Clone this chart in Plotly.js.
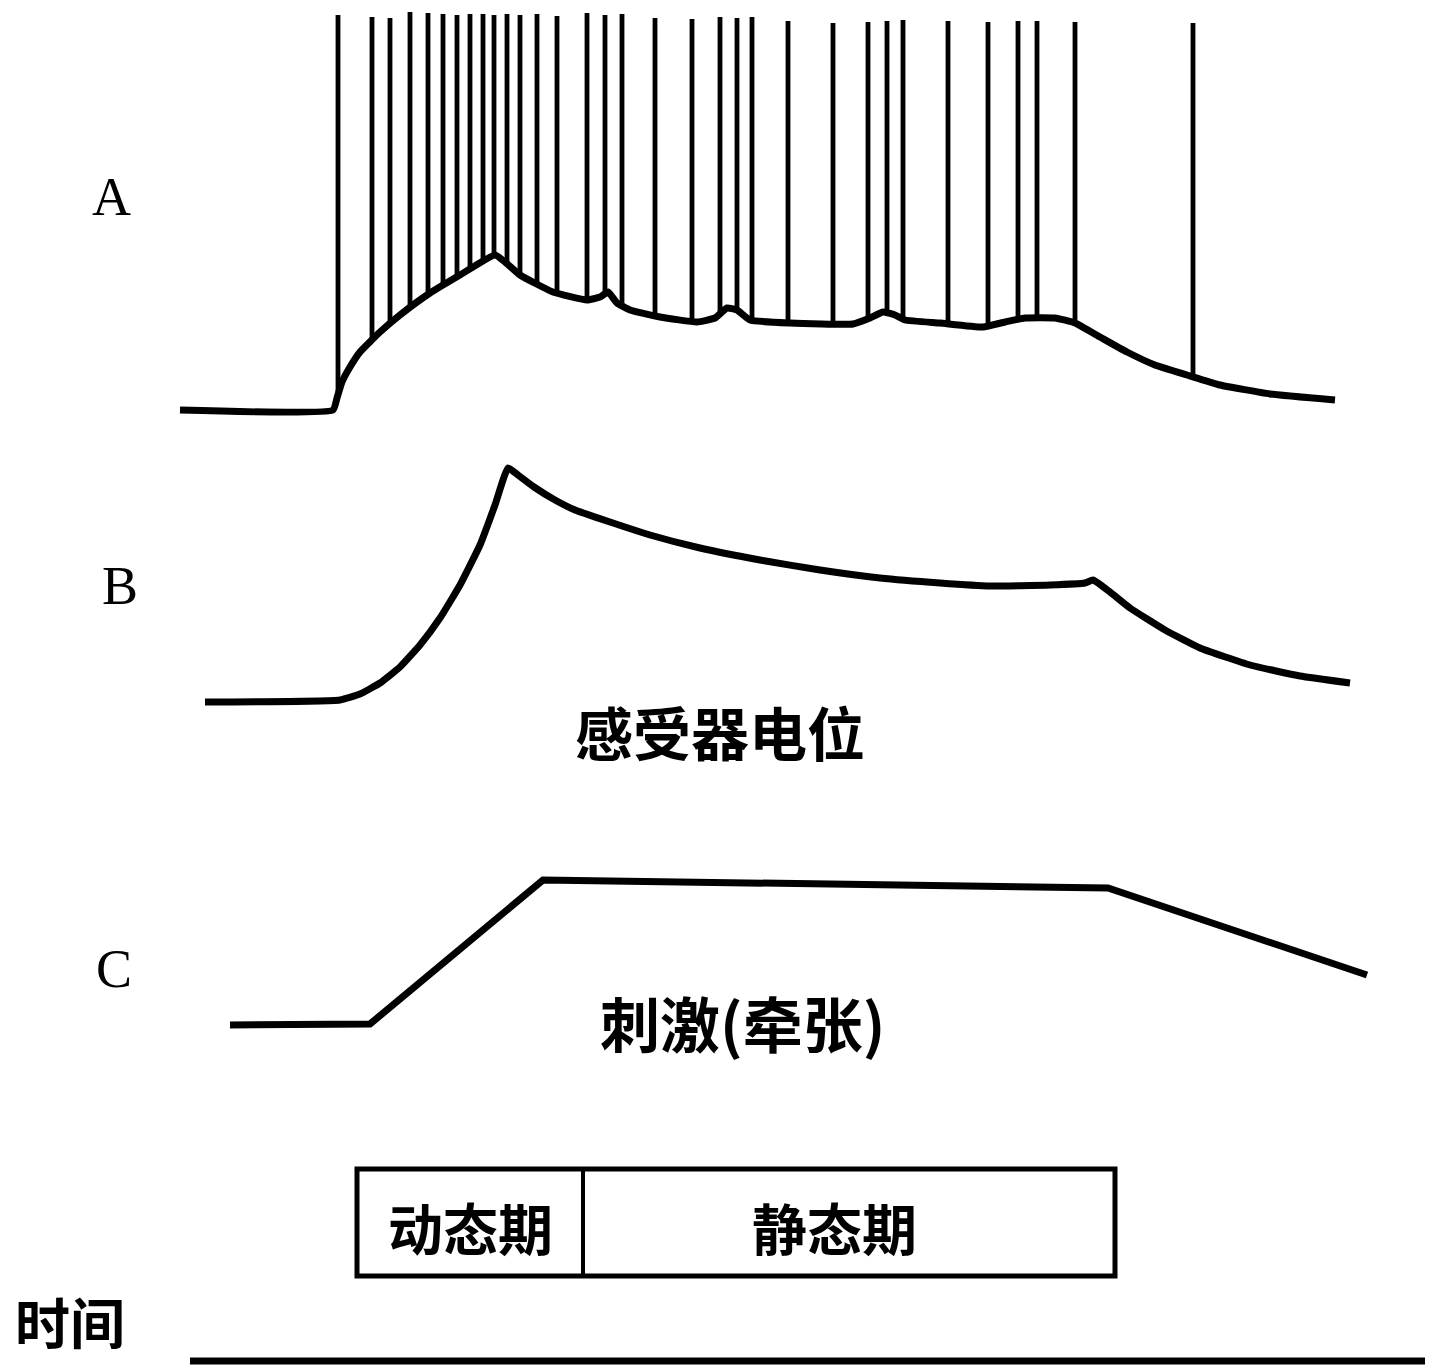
<!DOCTYPE html>
<html>
<head>
<meta charset="utf-8">
<script src="https://cdn.plot.ly/plotly-3.0.1.min.js"></script>
<style>
  html, body { margin: 0; padding: 0; background: #ffffff; }
  #chart { width: 1441px; height: 1368px; }
</style>
</head>
<body>
<div id="chart"></div>
<script>
// Time axis in arbitrary units; stretch begins near t = 34.
// A: afferent discharge riding on the receptor potential
const timeA = [18.0, 33.3, 33.7, 34.2, 35.0, 36.0, 38.0, 40.0, 43.0, 46.0, 49.5, 50.5, 52.0, 55.3, 58.7, 60.0, 60.8, 61.7, 63.0, 66.0, 69.7, 71.5, 72.7, 73.7, 75.0, 79.0, 85.3, 87.0, 88.3, 89.5, 90.5, 94.0, 98.3, 100.5, 102.5, 105.5, 107.5, 110.0, 112.7, 115.5, 118.7, 122.0, 127.0, 133.5];
const potentialA = [2.0, 2.0, 3.2, 4.8, 6.3, 7.8, 9.8, 11.5, 13.7, 15.5, 17.5, 16.8, 15.5, 13.8, 13.0, 13.3, 13.8, 12.7, 12.0, 11.3, 10.8, 11.2, 12.2, 12.0, 11.0, 10.7, 10.6, 11.2, 11.8, 11.5, 11.0, 10.7, 10.3, 10.8, 11.2, 11.2, 10.7, 9.3, 7.8, 6.5, 5.5, 4.5, 3.6, 3.0];

// Action potential times and peak amplitudes
const spikeTimes = [33.8, 37.2, 39.0, 41.0, 42.8, 44.3, 45.7, 47.0, 48.3, 49.4, 50.7, 52.0, 53.7, 55.7, 58.7, 60.5, 62.2, 65.5, 69.2, 72.0, 73.7, 75.2, 78.8, 83.3, 86.8, 88.7, 90.3, 94.8, 98.8, 101.8, 103.7, 107.5, 119.3];
const spikePeaks = [41.5, 41.3, 41.2, 41.8, 41.7, 41.6, 41.5, 41.6, 41.6, 41.5, 41.6, 41.5, 41.6, 41.4, 41.7, 41.5, 41.6, 41.2, 41.1, 41.3, 41.2, 41.3, 40.9, 40.7, 40.8, 40.9, 41.0, 40.9, 40.8, 40.9, 40.9, 40.8, 40.7];

// B: receptor potential alone
const timeB = [20.5, 34.0, 36.0, 38.0, 40.0, 42.0, 44.0, 46.0, 48.0, 49.5, 50.8, 51.8, 53.4, 55.5, 57.5, 61.0, 65.0, 70.0, 76.0, 82.0, 88.0, 94.0, 99.0, 105.0, 108.5, 109.3, 111.0, 113.0, 116.5, 120.0, 125.0, 130.0, 135.0];
const potentialB = [3.8, 4.0, 4.6, 5.7, 7.3, 9.5, 12.2, 15.5, 19.5, 23.5, 27.2, 26.5, 25.3, 24.0, 23.0, 21.8, 20.5, 19.2, 18.0, 17.0, 16.2, 15.7, 15.4, 15.5, 15.7, 16.0, 14.8, 13.2, 11.0, 9.2, 7.5, 6.4, 5.7];

// C: stimulus (stretch)
const timeC = [23.0, 37.0, 54.3, 70.0, 90.0, 110.8, 136.7];
const stretchC = [3.5, 3.6, 18.0, 17.8, 17.5, 17.2, 8.5];

// Phase boundaries and labels
const phaseEdges = [35.7, 58.3, 111.5];
const phaseNames = ['动态期', '静态期'];
const rowLabels = ['A', 'B', 'C'];
const curveLabels = ['感受器电位', '刺激(牵张)'];
const timeLabel = '时间';
const timeSpan = [19.0, 142.5];

// Foot of each spike sits on the underlying potential
function valueAt(ts, vs, t) {
  for (let i = 0; i < ts.length - 1; i++) {
    if (t >= ts[i] && t <= ts[i + 1]) {
      const f = (t - ts[i]) / (ts[i + 1] - ts[i]);
      return vs[i] + f * (vs[i + 1] - vs[i]);
    }
  }
  return vs[vs.length - 1];
}
const spikeX = [], spikeY = [];
spikeTimes.forEach((t, i) => {
  spikeX.push(t, t, null);
  spikeY.push(valueAt(timeA, potentialA, t), spikePeaks[i], null);
});

const ink = '#000000';
const traces = [
  { x: spikeX, y: spikeY, mode: 'lines', line: { color: ink, width: 4.8 }, xaxis: 'x', yaxis: 'y', connectgaps: false },
  { x: timeA, y: potentialA, mode: 'lines', line: { color: ink, width: 7, shape: 'spline', smoothing: 0.4 }, xaxis: 'x', yaxis: 'y' },
  { x: timeB, y: potentialB, mode: 'lines', line: { color: ink, width: 7, shape: 'spline', smoothing: 0.4 }, xaxis: 'x', yaxis: 'y2' },
  { x: timeC, y: stretchC, mode: 'lines', line: { color: ink, width: 7 }, xaxis: 'x', yaxis: 'y3' }
];

const H = 1368, W = 1441;
const py = v => 1 - v / H;
const px = v => v / W;
const hiddenAxis = { visible: false, showgrid: false, zeroline: false, fixedrange: true };

const cjk = '"Noto Sans CJK SC", "Noto Sans", sans-serif';
const serif = '"Liberation Serif", "DejaVu Serif", serif';

const annotations = [
  { text: rowLabels[0], x: px(111), y: py(197), font: { family: serif, size: 54, color: ink } },
  { text: rowLabels[1], x: px(120), y: py(586), font: { family: serif, size: 54, color: ink } },
  { text: rowLabels[2], x: px(114), y: py(969), font: { family: serif, size: 54, color: ink } },
  { text: curveLabels[0], x: px(720), y: py(731), font: { family: cjk, size: 58, color: ink, weight: 700 } },
  { text: curveLabels[1], x: px(742), y: py(1021), font: { family: cjk, size: 60, color: ink, weight: 700 } },
  { text: phaseNames[0], x: (phaseEdges[0] + phaseEdges[1]) / 2, xref: 'x', y: py(1226), font: { family: cjk, size: 55, color: ink, weight: 700 } },
  { text: phaseNames[1], x: (phaseEdges[1] + phaseEdges[2]) / 2 - 1.5, xref: 'x', y: py(1226), font: { family: cjk, size: 55, color: ink, weight: 700 } },
  { text: timeLabel, x: px(70), y: py(1320), font: { family: cjk, size: 55, color: ink, weight: 700 } }
].map(a => Object.assign({ xref: 'paper', yref: 'paper', showarrow: false, xanchor: 'center', yanchor: 'middle' }, a));

const shapes = [
  { type: 'rect', xref: 'x', yref: 'paper', x0: phaseEdges[0], x1: phaseEdges[2], y0: py(1276), y1: py(1169), line: { color: ink, width: 5 } },
  { type: 'line', xref: 'x', yref: 'paper', x0: phaseEdges[1], x1: phaseEdges[1], y0: py(1276), y1: py(1169), line: { color: ink, width: 4 } },
  { type: 'line', xref: 'x', yref: 'paper', x0: timeSpan[0], x1: timeSpan[1], y0: py(1361), y1: py(1361), line: { color: ink, width: 7 } }
];

const layout = {
  width: W, height: H,
  margin: { l: 0, r: 0, t: 0, b: 0, pad: 0 },
  paper_bgcolor: '#ffffff', plot_bgcolor: '#ffffff',
  showlegend: false,
  xaxis: Object.assign({ range: [0, 144.1], domain: [0, 1] }, hiddenAxis),
  yaxis: Object.assign({ range: [0, 43], domain: [py(430), 1] }, hiddenAxis),
  yaxis2: Object.assign({ range: [0, 30], domain: [py(740), py(440)] }, hiddenAxis),
  yaxis3: Object.assign({ range: [0, 21], domain: [py(1060), py(850)] }, hiddenAxis),
  annotations: annotations,
  shapes: shapes
};

Plotly.newPlot('chart', traces, layout, { staticPlot: true, displayModeBar: false });
</script>
</body>
</html>
